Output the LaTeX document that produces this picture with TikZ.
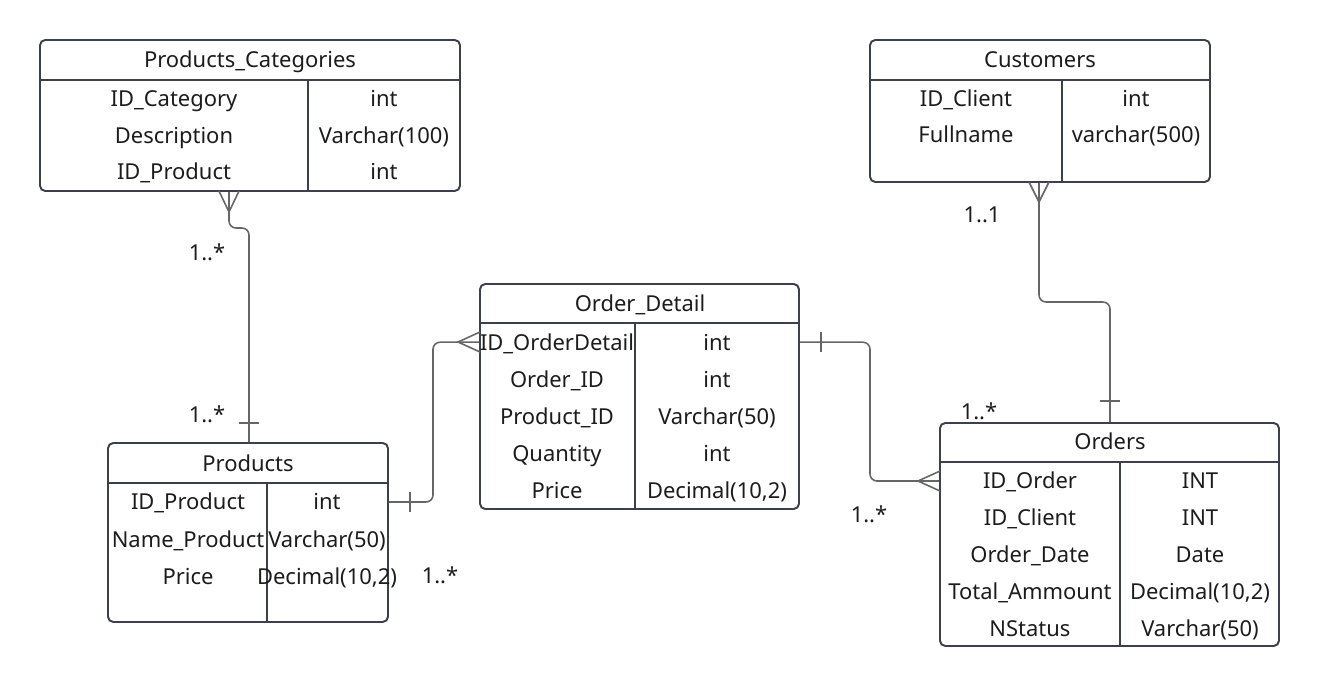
\documentclass[tikz,border=0pt]{standalone}
\usepackage{fontspec}
\setmainfont{Noto Sans}
\usetikzlibrary{fit}

\definecolor{frame}{HTML}{3B404C}
\definecolor{linkgray}{HTML}{666666}
\definecolor{ink}{HTML}{1C1C1C}

\begin{document}
\begin{tikzpicture}[x=0.02cm, y=-0.02cm,
    tbl/.style={draw=frame, line width=1.1pt, rounded corners=3pt, inner sep=0pt},
    rule/.style={draw=frame, line width=1.1pt},
    cell/.style={text=ink, inner sep=0pt, font=\fontsize{12.5}{14}\selectfont,
        text height=8.9pt, text depth=0pt},
    lbl/.style={cell},
    link/.style={draw=linkgray, line width=0.9pt, rounded corners=4pt},
    ]

    \useasboundingbox (0,0) rectangle (1320,687);

    % Products_Categories
    \node [tbl, fit={(40,40) (460,191)}] (cat) {};
    \draw [rule] (40,80) -- (460,80);
    \draw [rule] (308,80) -- (308,191);
    \node [cell] (cat-h) at (250,60) {Products\_Categories};
    \foreach \a/\b [count=\i] in {ID\_Category/int, Description/Varchar(100), ID\_Product/int} {
        \node [cell] (cat-k\i) at (174, {62.5+36.5*\i}) {\a};
        \node [cell] (cat-t\i) at (384, {62.5+36.5*\i}) {\b};
    }

    % Customers
    \node [tbl, fit={(870,40) (1210,182)}] (cust) {};
    \draw [rule] (870,80) -- (1210,80);
    \draw [rule] (1062,80) -- (1062,182);
    \node [cell] (cust-h) at (1040,60) {Customers};
    \foreach \a/\b [count=\i] in {ID\_Client/int, Fullname/varchar(500)} {
        \node [cell] (cust-k\i) at (966, {63+36*\i}) {\a};
        \node [cell] (cust-t\i) at (1136, {63+36*\i}) {\b};
    }

    % Products
    \node [tbl, fit={(108,443) (388,622)}] (prod) {};
    \draw [rule] (108,483) -- (388,483);
    \draw [rule] (267,483) -- (267,622);
    \node [cell] (prod-h) at (248,464) {Products};
    \foreach \a/\b [count=\i] in {ID\_Product/int, Name\_Product/Varchar(50), Price/{Decimal(10,2)}} {
        \node [cell] (prod-k\i) at (188, {464.5+37.5*\i}) {\a};
        \node [cell] (prod-t\i) at (327, {464.5+37.5*\i}) {\b};
    }

    % Order_Detail
    \node [tbl, fit={(480,284) (799,509)}] (det) {};
    \draw [rule] (480,323) -- (799,323);
    \draw [rule] (635,323) -- (635,509);
    \node [cell] (det-h) at (640,304) {Order\_Detail};
    \foreach \a/\b [count=\i] in {ID\_OrderDetail/int, Order\_ID/int, Product\_ID/Varchar(50),
            Quantity/int, Price/{Decimal(10,2)}} {
        \node [cell] (det-k\i) at (557, {305+37.2*\i}) {\a};
        \node [cell] (det-t\i) at (717, {305+37.2*\i}) {\b};
    }

    % Orders
    \node [tbl, fit={(940,423) (1279,646)}] (ord) {};
    \draw [rule] (940,462) -- (1279,462);
    \draw [rule] (1120,462) -- (1120,646);
    \node [cell] (ord-h) at (1110,442) {Orders};
    \foreach \a/\b [count=\i] in {ID\_Order/INT, ID\_Client/INT, Order\_Date/Date,
            Total\_Ammount/{Decimal(10,2)}, NStatus/Varchar(50)} {
        \node [cell] (ord-k\i) at (1030, {444.2+36.8*\i}) {\a};
        \node [cell] (ord-t\i) at (1200, {444.2+36.8*\i}) {\b};
    }

    % bends
    \coordinate (j1) at (229,228);
    \coordinate (j2) at (249,228);
    \coordinate (p1) at (433,0);
    \coordinate (d1) at (870,0);
    \coordinate (c1) at (1039,302);
    \coordinate (c2) at (1110,302);

    % Products_Categories -- Products
    \draw [link] (cat.south -| j1) -- (j1) -- (j2) -- (prod.north -| j2);
    \draw [link, rounded corners=0pt] (219,191) -- (229,212) -- (239,191);
    \draw [link] (239,423) -- (259,423);

    % Products -- Order_Detail
    \draw [link] (prod.east |- prod-k1) -- (prod-k1 -| p1) -- (det-k1 -| p1) -- (det.west |- det-k1);
    \draw [link, rounded corners=0pt] (480,332) -- (458,342) -- (480,352);
    \draw [link] (410,492) -- (410,512);

    % Order_Detail -- Orders
    \draw [link] (det.east |- det-k1) -- (det-k1 -| d1) -- (ord-k1 -| d1) -- (ord.west |- ord-k1);
    \draw [link, rounded corners=0pt] (940,471) -- (918,481) -- (940,491);
    \draw [link] (821,332) -- (821,352);

    % Customers -- Orders
    \draw [link] (cust.south -| c1) -- (c1) -- (c2) -- (ord.north -| c2);
    \draw [link, rounded corners=0pt] (1029,182) -- (1039,202) -- (1049,182);
    \draw [link] (1100,401) -- (1120,401);

    \node [lbl] (m1) at (207,253) {1..*};
    \node [lbl] (m2) at (207,415) {1..*};
    \node [lbl] (m3) at (440,576) {1..*};
    \node [lbl] (m4) at (869,515) {1..*};
    \node [lbl] (m5) at (979,412) {1..*};
    \node [lbl] (m6) at (982,215) {1..1};

\end{tikzpicture}
\end{document}
